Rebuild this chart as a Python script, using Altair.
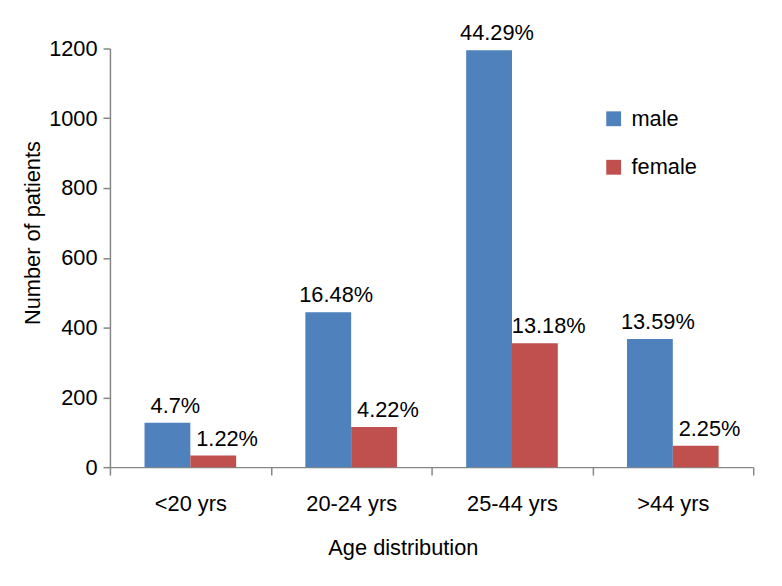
import altair as alt
import pandas as pd

categories = ["<20 yrs", "20-24 yrs", "25-44 yrs", ">44 yrs"]
series = ["male", "female"]
male = [127, 444, 1195, 367]
female = [33, 115, 355, 61]
male_pct = ["4.7%", "16.48%", "44.29%", "13.59%"]
female_pct = ["1.22%", "4.22%", "13.18%", "2.25%"]
colors = ["#4F81BD", "#C0504D"]

rows = []
for i, c in enumerate(categories):
    rows.append(dict(age=c, sex="male", n=male[i], pct=male_pct[i]))
    rows.append(dict(age=c, sex="female", n=female[i], pct=female_pct[i]))
df = pd.DataFrame(rows)

FONT = "Liberation Sans"
AXC = "#868686"
FS = 22

x = alt.X(
    "age:N", sort=categories,
    scale=alt.Scale(paddingInner=0, paddingOuter=0),
    axis=alt.Axis(
        title="Age distribution", labelAngle=0, tickBand="extent",
        tickSize=8, labelPadding=36, labelBaseline="alphabetic",
        titleX=296, titleY=88, titleBaseline="alphabetic", titleAlign="center",
    ),
)
xo = alt.XOffset("sex:N", sort=series,
                 scale=alt.Scale(domain=series, paddingInner=0, paddingOuter=0.755))
y = alt.Y(
    "n:Q", scale=alt.Scale(domain=[0, 1200], nice=False),
    axis=alt.Axis(
        title="Number of patients", values=[0, 200, 400, 600, 800, 1000, 1200],
        format="d", grid=False, tickSize=7, labelPadding=6,
        titleX=-78, titleY=186, titleAngle=-90, titleBaseline="middle", titleAlign="center",
    ),
)
color = alt.Color(
    "sex:N", sort=series,
    scale=alt.Scale(domain=series, range=colors),
    legend=alt.Legend(
        title=None, orient="none", legendX=498, legendY=60, symbolType="square",
        symbolSize=225, symbolStrokeWidth=0, labelFontSize=FS, labelFont=FONT,
        labelColor="black", rowPadding=27, labelOffset=7, padding=0,
    ),
)

base = alt.Chart(df)
bars = base.mark_bar().encode(x=x, xOffset=xo, y=y, color=color)
text_m = base.transform_filter(alt.datum.sex == "male").mark_text(
    dx=8, dy=-10, baseline="alphabetic", align="center", fontSize=FS, font=FONT, color="black"
).encode(x=x, xOffset=xo, y=y, text="pct:N")
text_f = base.transform_filter(alt.datum.sex == "female").mark_text(
    dx=14, dy=-10, baseline="alphabetic", align="center", fontSize=FS, font=FONT, color="black"
).encode(x=x, xOffset=xo, y=y, text="pct:N")

chart = alt.layer(bars, text_m, text_f).properties(
    width=650, height=423,
    autosize=alt.AutoSizeParams(type="none"),
    padding={"left": 103, "top": 38, "right": 21, "bottom": 100},
    background="white",
).configure_view(stroke=None).configure_axis(
    domainColor=AXC, tickColor=AXC, domainWidth=1.5, tickWidth=1.5,
    labelFont=FONT, labelFontSize=FS, labelColor="black",
    titleFont=FONT, titleFontSize=FS, titleFontWeight="normal", titleColor="black",
)

chart.save("out.html", embed_options={"renderer": "svg", "actions": False})
